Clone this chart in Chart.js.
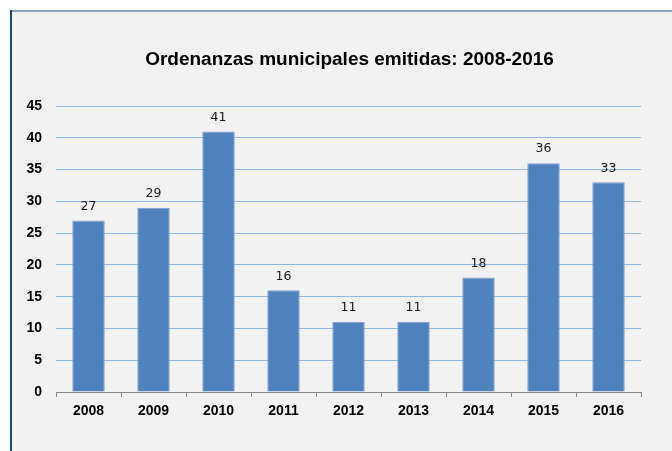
<!DOCTYPE html>
<html>
<head>
<meta charset="utf-8">
<script src="https://cdn.jsdelivr.net/npm/chart.js@4.4.1/dist/chart.umd.min.js"></script>
<style>
  html, body { margin: 0; padding: 0; background: #fff; }
  #wrap { width: 672px; height: 451px; position: relative; }
</style>
</head>
<body>
<div id="wrap"><canvas id="c" width="672" height="451"></canvas></div>
<script>
'use strict';

// datos del gráfico
const years = ['2008', '2009', '2010', '2011', '2012', '2013', '2014', '2015', '2016'];
const ordinances = [27, 29, 41, 16, 11, 11, 18, 36, 33];
const yTicks = [0, 5, 10, 15, 20, 25, 30, 35, 40, 45];
const titleText = 'Ordenanzas municipales emitidas: 2008-2016';

const BAR_BLUE = '#4F81BD';
const GRID_BLUE = '#8FB6E4';
const AXIS_GRAY = '#878787';

// fondo gris y marco del área del gráfico
const frameBg = {
  id: 'frameBg',
  beforeDraw(chart) {
    const ctx = chart.ctx;
    ctx.save();
    ctx.fillStyle = '#fff';
    ctx.fillRect(0, 0, chart.width, chart.height);
    ctx.fillStyle = '#F2F2F2';
    ctx.fillRect(10, 10, chart.width - 10, chart.height - 10);
    ctx.fillStyle = '#8EA2BC';
    ctx.fillRect(10, 10, chart.width - 10, 2);
    ctx.fillStyle = '#1F497D';
    ctx.fillRect(10, 10, 2, chart.height - 10);
    ctx.restore();
  }
};

// título centrado sobre el marco (no sobre el área del canvas)
const frameTitle = {
  id: 'frameTitle',
  afterDraw(chart) {
    const ctx = chart.ctx;
    ctx.save();
    ctx.font = 'bold 19px "Liberation Sans", Arial, sans-serif';
    ctx.fillStyle = '#000';
    ctx.textAlign = 'center';
    ctx.textBaseline = 'middle';
    ctx.fillText(titleText, 349.5, 60);
    ctx.restore();
  }
};

// etiquetas de valor encima de cada barra
const valueLabels = {
  id: 'valueLabels',
  afterDatasetsDraw(chart) {
    const ctx = chart.ctx;
    const meta = chart.getDatasetMeta(0);
    ctx.save();
    ctx.font = '12.5px "DejaVu Sans", sans-serif';
    ctx.fillStyle = '#1a1a1a';
    ctx.textAlign = 'center';
    ctx.textBaseline = 'middle';
    meta.data.forEach(function(bar, i) {
      ctx.fillText(String(ordinances[i]), bar.x, bar.y - 14);
    });
    ctx.restore();
  }
};

new Chart(document.getElementById('c'), {
  type: 'bar',
  data: {
    labels: years,
    datasets: [{
      data: ordinances,
      backgroundColor: BAR_BLUE,
      borderColor: '#7FA3D3',
      borderWidth: 1,
      barPercentage: 0.5,
      categoryPercentage: 1.0,
    }],
  },
  options: {
    responsive: false,
    animation: false,
    layout: { padding: { left: 0, right: 31, top: 106, bottom: 0 } },
    plugins: {
      legend: { display: false },
      tooltip: { enabled: false },
      title: { display: false },
    },
    scales: {
      x: {
        grid: { display: true, drawOnChartArea: false, drawTicks: true, tickLength: 5, color: AXIS_GRAY, offset: true },
        border: { display: true, color: AXIS_GRAY, width: 1 },
        ticks: {
          color: '#000',
          padding: 6,
          font: { family: '"Liberation Sans", Arial, sans-serif', size: 14, weight: 'bold' },
        },
        afterFit(scale) { scale.height = 59; },
      },
      y: {
        min: 0,
        max: 45,
        afterBuildTicks(scale) { scale.ticks = yTicks.map(v => ({ value: v })); },
        grid: { color: GRID_BLUE, drawTicks: false, lineWidth: 1 },
        border: { display: false },
        ticks: {
          color: '#000',
          padding: 14,
          font: { family: '"Liberation Sans", Arial, sans-serif', size: 14, weight: 'bold' },
        },
        afterFit(scale) { scale.width = 56; },
      },
    },
  },
  plugins: [frameBg, frameTitle, valueLabels],
});
</script>
</body>
</html>
